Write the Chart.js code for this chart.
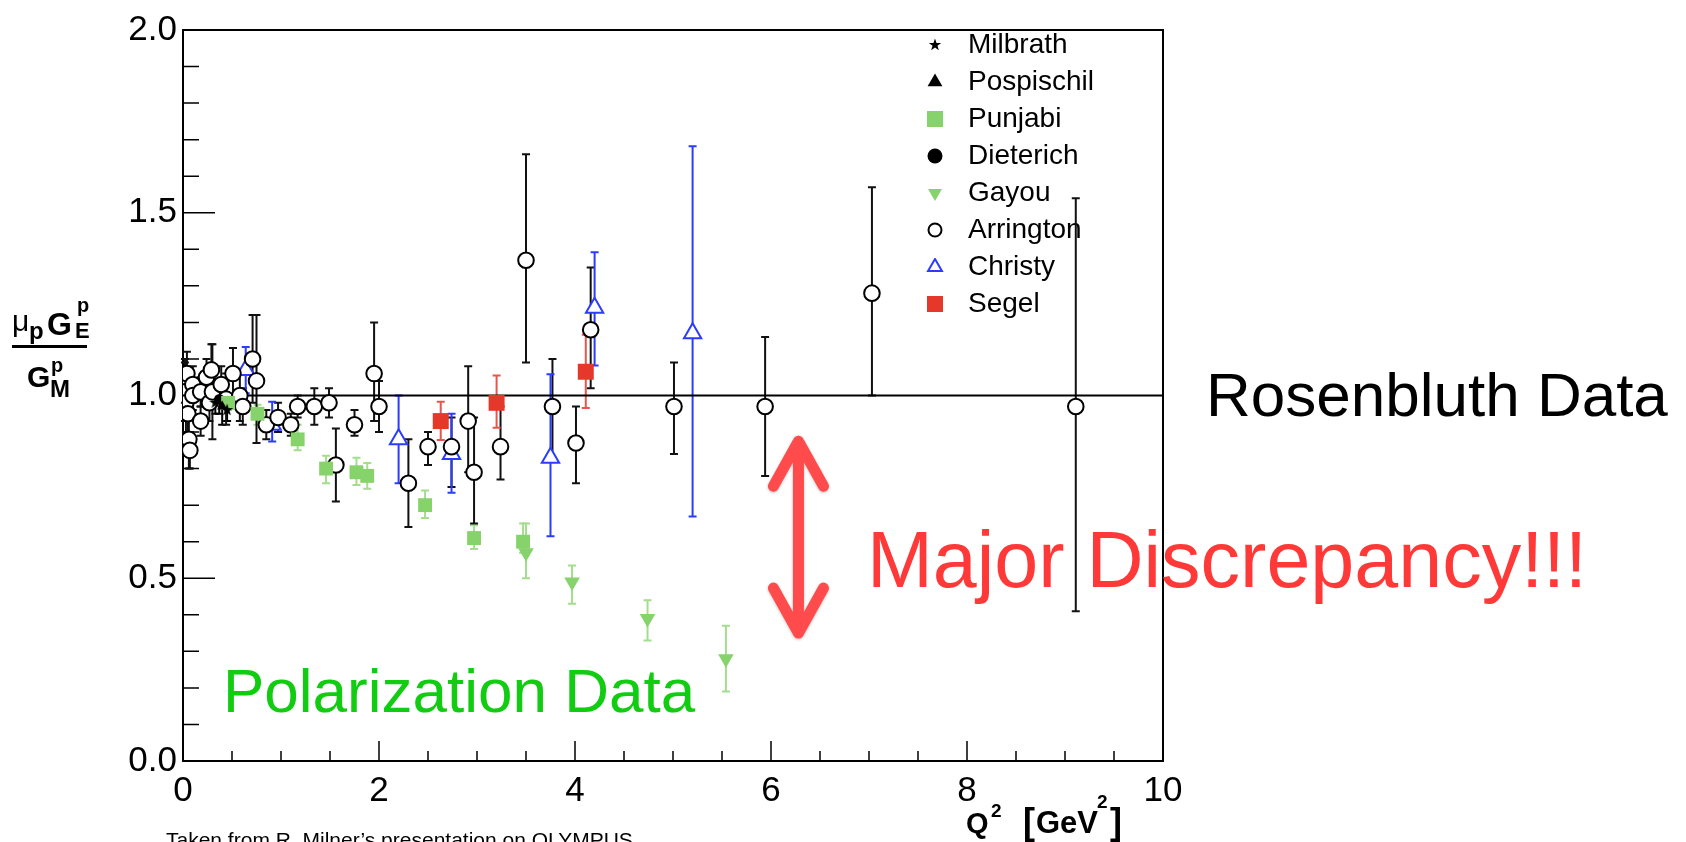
<!DOCTYPE html>
<html>
<head>
<meta charset="utf-8">
<title>Proton form factor ratio</title>
<script src="https://cdn.jsdelivr.net/npm/chart.js@4.4.1/dist/chart.umd.min.js"></script>
<style>
    html, body { margin: 0; padding: 0; background: #fff; }
    canvas { display: block; }
</style>
</head>
<body>
<canvas id="ratioChart" width="1686" height="842"></canvas>
<script>
// ==========================================
// DATA  (rows: Q2, ratio, error low, error high)
// ==========================================
const milbrath = [[0.33, 0.98, 0.95, 1.01], [0.45, 0.96, 0.93, 0.99]];
const pospischil = [[0.40, 0.97, 0.92, 1.02]];
const punjabi = [
    [0.46, 0.98, 0.96, 1.00], [0.76, 0.95, 0.92, 0.975], [1.17, 0.88, 0.85, 0.92],
    [1.46, 0.80, 0.76, 0.835], [1.77, 0.79, 0.755, 0.83], [1.88, 0.78, 0.745, 0.815],
    [2.47, 0.70, 0.665, 0.74], [2.97, 0.61, 0.58, 0.645], [3.47, 0.60, 0.57, 0.65]
];
const dieterich = [[0.37, 0.99, 0.95, 1.03]];
const gayou = [[3.50, 0.57, 0.50, 0.65], [3.97, 0.49, 0.43, 0.535], [4.74, 0.39, 0.33, 0.44], [5.54, 0.28, 0.19, 0.37]];
const arrington = [
    [0.02, 1.04, 0.98, 1.10], [0.02, 1.01, 0.93, 1.09], [0.03, 0.98, 0.90, 1.06],
    [0.04, 1.06, 1.00, 1.12], [0.05, 0.95, 0.88, 1.02],
    [0.06, 0.88, 0.80, 0.96], [0.07, 0.85, 0.80, 0.90], [0.10, 1.03, 0.99, 1.08],
    [0.10, 1.00, 0.96, 1.04], [0.18, 0.93, 0.89, 0.97], [0.18, 1.01, 0.97, 1.05],
    [0.24, 1.05, 1.00, 1.10], [0.27, 0.98, 0.93, 1.03], [0.29, 1.07, 1.00, 1.14],
    [0.30, 1.01, 0.88, 1.14], [0.39, 1.03, 0.98, 1.08], [0.44, 0.99, 0.92, 1.06],
    [0.51, 1.06, 1.00, 1.13], [0.58, 1.00, 0.93, 1.06], [0.61, 0.97, 0.92, 1.02],
    [0.71, 1.10, 0.98, 1.22], [0.75, 1.04, 0.87, 1.22], [0.85, 0.92, 0.88, 0.96],
    [0.97, 0.94, 0.90, 0.98], [1.10, 0.92, 0.89, 0.95], [1.17, 0.97, 0.94, 1.00],
    [1.34, 0.97, 0.92, 1.02], [1.49, 0.98, 0.94, 1.02], [1.56, 0.81, 0.71, 0.91],
    [1.75, 0.92, 0.89, 0.96], [1.95, 1.06, 0.93, 1.20], [2.00, 0.97, 0.90, 1.04],
    [2.30, 0.76, 0.64, 0.88], [2.50, 0.86, 0.81, 0.90], [2.74, 0.86, 0.75, 0.94],
    [2.91, 0.93, 0.79, 1.08], [2.97, 0.79, 0.65, 0.94], [3.24, 0.86, 0.77, 0.97],
    [3.50, 1.37, 1.09, 1.66], [3.77, 0.97, 0.83, 1.10], [4.01, 0.87, 0.76, 0.97],
    [4.16, 1.18, 1.02, 1.35], [5.01, 0.97, 0.84, 1.09], [5.94, 0.97, 0.78, 1.16],
    [7.03, 1.28, 1.00, 1.57], [9.11, 0.97, 0.41, 1.54]
];
const christy = [
    [0.64, 1.07, 1.006, 1.133], [0.91, 0.92, 0.874, 0.983], [2.20, 0.88, 0.76, 1.00],
    [2.74, 0.84, 0.734, 0.95], [3.75, 0.83, 0.615, 1.058], [4.20, 1.24, 1.082, 1.392],
    [5.20, 1.17, 0.669, 1.682]
];
const segel = [[2.63, 0.93, 0.878, 0.983], [3.20, 0.98, 0.912, 1.055], [4.11, 1.065, 0.966, 1.166]];

// reference line (ratio = 1)
const unityQ2 = [0, 10];
const unityRatio = [1, 1];

const xTicks = [0, 2, 4, 6, 8, 10];
const yTicks = [0, 0.5, 1.0, 1.5, 2.0];

const FONT = '"Liberation Sans", Arial, Helvetica, sans-serif';
const GREEN = '#86d26b';
const GREEN_ERR = '#a3dd8d';
const RED = '#e5372a';
const BLUE = '#2b3cff';

// ==========================================
// MARKER IMAGES (legend + star)
// ==========================================
function makeMarker(size, draw) {
    const c = document.createElement('canvas');
    c.width = size;
    c.height = size;
    const g = c.getContext('2d');
    draw(g, size / 2);
    return c;
}

function starPath(g, cx, cy, outer, inner) {
    g.beginPath();
    for (let i = 0; i < 10; i++) {
        const r = i % 2 === 0 ? outer : inner;
        const a = -Math.PI / 2 + i * Math.PI / 5;
        g.lineTo(cx + r * Math.cos(a), cy + r * Math.sin(a));
    }
    g.closePath();
}

function triPath(g, c, r, down) {
    const s = down ? -1 : 1;
    g.beginPath();
    g.moveTo(c, c - s * r);
    g.lineTo(c + r * 0.87, c + s * r * 0.5);
    g.lineTo(c - r * 0.87, c + s * r * 0.5);
    g.closePath();
}

const starImg = makeMarker(14, (g, c) => { starPath(g, c, c, 6.5, 2.6); g.fillStyle = '#000'; g.fill(); });
const legendMarkers = {
    Milbrath: starImg,
    Pospischil: makeMarker(18, (g, c) => { triPath(g, c, 8.5, false); g.fillStyle = '#000'; g.fill(); }),
    Punjabi: makeMarker(16, (g) => { g.fillStyle = GREEN; g.fillRect(0, 0, 16, 16); }),
    Dieterich: makeMarker(16, (g, c) => { g.beginPath(); g.arc(c, c, 7.5, 0, Math.PI * 2); g.fillStyle = '#000'; g.fill(); }),
    Gayou: makeMarker(16, (g, c) => { triPath(g, c, 8, true); g.fillStyle = GREEN; g.fill(); }),
    Arrington: makeMarker(16, (g, c) => { g.beginPath(); g.arc(c, c, 6.5, 0, Math.PI * 2); g.lineWidth = 2; g.strokeStyle = '#000'; g.stroke(); }),
    Christy: makeMarker(18, (g, c) => { triPath(g, c, 8, false); g.lineWidth = 2; g.strokeStyle = BLUE; g.stroke(); }),
    Segel: makeMarker(16, (g) => { g.fillStyle = RED; g.fillRect(0, 0, 16, 16); })
};

function toPoints(rows) {
    return rows.map(r => ({ x: r[0], y: r[1], low: r[2], high: r[3] }));
}

// ==========================================
// PLUGINS
// ==========================================
const errorBars = {
    id: 'errorBars',
    beforeDatasetsDraw(chart) {
        const { ctx, scales: { x, y } } = chart;
        chart.data.datasets.forEach((ds, i) => {
            if (!ds.errorColor || !chart.isDatasetVisible(i)) return;
            ctx.save();
            ctx.strokeStyle = ds.errorColor;
            ctx.lineWidth = 2;
            ds.data.forEach(p => {
                const px = x.getPixelForValue(p.x);
                const top = y.getPixelForValue(p.high);
                const bottom = y.getPixelForValue(p.low);
                ctx.beginPath();
                ctx.moveTo(px, top);
                ctx.lineTo(px, bottom);
                ctx.moveTo(px - 4, top);
                ctx.lineTo(px + 4, top);
                ctx.moveTo(px - 4, bottom);
                ctx.lineTo(px + 4, bottom);
                ctx.stroke();
            });
            ctx.restore();
        });
    }
};

// frame + inward ticks, ROOT style
const frameTicks = {
    id: 'frameTicks',
    beforeDatasetsDraw(chart) {
        const { ctx, chartArea: a, scales: { x, y } } = chart;
        ctx.save();
        ctx.strokeStyle = '#000';
        ctx.lineWidth = 2;
        ctx.strokeRect(a.left, a.top, a.right - a.left, a.bottom - a.top);
        ctx.lineWidth = 1.5;
        ctx.beginPath();
        for (let k = 1; k < 20; k++) {
            const py = y.getPixelForValue(k / 10);
            const len = k % 5 === 0 ? 32 : 16;
            ctx.moveTo(a.left, py);
            ctx.lineTo(a.left + len, py);
        }
        for (let k = 1; k < 20; k++) {
            const px = x.getPixelForValue(k * 0.5);
            const len = k % 4 === 0 ? 20 : 10;
            ctx.moveTo(px, a.bottom);
            ctx.lineTo(px, a.bottom - len);
        }
        ctx.stroke();
        ctx.restore();
    }
};

// move the legend into the upper right corner of the frame
const legendCorner = {
    id: 'legendCorner',
    beforeDraw(chart) {
        chart.legend.left = 907;
        chart.legend.top = 22;
    }
};

function drawArrow(ctx, x, yTop, yBottom) {
    ctx.save();
    ctx.strokeStyle = '#ff4b4b';
    ctx.lineWidth = 11;
    ctx.lineCap = 'round';
    ctx.lineJoin = 'round';
    ctx.shadowColor = 'rgba(0,0,0,0.25)';
    ctx.shadowBlur = 3;
    ctx.shadowOffsetY = 1;
    ctx.beginPath();
    ctx.moveTo(x, yTop);
    ctx.lineTo(x, yBottom);
    ctx.moveTo(x - 25, yTop + 45);
    ctx.lineTo(x, yTop);
    ctx.lineTo(x + 25, yTop + 45);
    ctx.moveTo(x - 25, yBottom - 45);
    ctx.lineTo(x, yBottom);
    ctx.lineTo(x + 25, yBottom - 45);
    ctx.stroke();
    ctx.restore();
}

const annotations = {
    id: 'annotations',
    afterDraw(chart) {
        const { ctx, scales: { x, y } } = chart;
        ctx.save();
        ctx.textAlign = 'left';
        ctx.textBaseline = 'alphabetic';
        ctx.fillStyle = '#000';

        // y title: mu_p G_E^p / G_M^p
        ctx.font = `30px ${FONT}`;
        ctx.fillText('\u03bc', 12, 331);
        ctx.font = `bold 24px ${FONT}`;
        ctx.fillText('p', 29, 339);
        ctx.font = `bold 32px ${FONT}`;
        ctx.fillText('G', 47, 335);
        ctx.font = `bold 20px ${FONT}`;
        ctx.fillText('p', 77, 312);
        ctx.font = `bold 22px ${FONT}`;
        ctx.fillText('E', 75, 338);
        ctx.fillRect(12, 345, 75, 3);
        ctx.font = `bold 30px ${FONT}`;
        ctx.fillText('G', 27, 387);
        ctx.font = `bold 20px ${FONT}`;
        ctx.fillText('p', 51, 372);
        ctx.font = `bold 24px ${FONT}`;
        ctx.fillText('M', 50, 397);

        // x title: Q^2 [GeV^2]
        ctx.font = `bold 29px ${FONT}`;
        ctx.fillText('Q', 966, 833);
        ctx.font = `bold 19px ${FONT}`;
        ctx.fillText('2', 991, 817);
        ctx.font = `bold 36px ${FONT}`;
        ctx.fillText('[', 1023, 834);
        ctx.font = `bold 31px ${FONT}`;
        ctx.fillText('GeV', 1036, 833);
        ctx.font = `bold 19px ${FONT}`;
        ctx.fillText('2', 1097, 808);
        ctx.font = `bold 36px ${FONT}`;
        ctx.fillText(']', 1110, 834);

        // slide annotations
        ctx.font = `62px ${FONT}`;
        ctx.fillText('Rosenbluth Data', 1206, 416);
        ctx.fillStyle = '#ff3838';
        ctx.font = `79px ${FONT}`;
        ctx.fillText('Major Discrepancy!!!', 867, 587);
        ctx.fillStyle = '#11cc11';
        ctx.font = `62px ${FONT}`;
        ctx.fillText('Polarization Data', 223, 712);
        ctx.fillStyle = '#000';
        ctx.font = `21px ${FONT}`;
        ctx.fillText('Taken from R. Milner\u2019s presentation on OLYMPUS', 166, 847);

        drawArrow(ctx, x.getPixelForValue(6.28), y.getPixelForValue(0.875), y.getPixelForValue(0.35));
        ctx.restore();
    }
};

// ==========================================
// CHART
// ==========================================
Chart.defaults.font.family = FONT;
Chart.defaults.color = '#000';

function series(label, rows, opts) {
    return Object.assign({
        label: label,
        data: toPoints(rows),
        borderWidth: 0,
        pointHoverRadius: 0
    }, opts);
}

const datasets = [
    series('Milbrath', milbrath, { pointStyle: starImg, errorColor: '#000' }),
    series('Pospischil', pospischil, { pointStyle: 'triangle', pointRadius: 6, backgroundColor: '#000', borderColor: '#000', errorColor: '#000' }),
    series('Punjabi', punjabi, { pointStyle: 'rect', pointRadius: 9.8, backgroundColor: GREEN, borderColor: GREEN, errorColor: GREEN_ERR }),
    series('Dieterich', dieterich, { pointStyle: 'circle', pointRadius: 5, backgroundColor: '#000', borderColor: '#000', errorColor: '#000' }),
    series('Gayou', gayou, { pointStyle: 'triangle', rotation: 180, pointRadius: 9, backgroundColor: GREEN, borderColor: GREEN, errorColor: GREEN_ERR }),
    series('Arrington', arrington, { pointStyle: 'circle', pointRadius: 7.8, backgroundColor: '#fff', borderColor: '#000', pointBorderWidth: 2, errorColor: '#111' }),
    series('Christy', christy, { pointStyle: 'triangle', pointRadius: 10, backgroundColor: '#fff', borderColor: BLUE, pointBorderWidth: 2, errorColor: BLUE }),
    series('Segel', segel, { pointStyle: 'rect', pointRadius: 11.3, backgroundColor: RED, borderColor: RED, errorColor: '#e8564b' }),
    {
        label: 'unity',
        data: unityQ2.map((q, i) => ({ x: q, y: unityRatio[i] })),
        showLine: true,
        borderColor: '#000',
        borderWidth: 2,
        pointRadius: 0,
        order: 10
    }
];

new Chart(document.getElementById('ratioChart'), {
    type: 'scatter',
    data: { datasets: datasets },
    options: {
        responsive: false,
        devicePixelRatio: 1,
        animation: false,
        events: [],
        layout: { padding: { left: 0, top: 30, right: 523, bottom: 0 } },
        scales: {
            x: {
                min: 0,
                max: 10,
                afterFit: s => { s.height = 81; },
                afterBuildTicks: s => { s.ticks = xTicks.map(v => ({ value: v })); },
                grid: { display: false, drawTicks: false, tickLength: 0 },
                border: { display: false },
                ticks: { font: { size: 35 }, color: '#000', padding: 9, maxRotation: 0, callback: v => String(v) }
            },
            y: {
                min: 0,
                max: 2,
                afterFit: s => { s.width = 183; },
                afterBuildTicks: s => { s.ticks = yTicks.map(v => ({ value: v })); },
                grid: { display: false, drawTicks: false, tickLength: 0 },
                border: { display: false },
                ticks: { font: { size: 35 }, color: '#000', padding: 6, callback: v => v.toFixed(1) }
            }
        },
        plugins: {
            tooltip: { enabled: false },
            legend: {
                position: 'chartArea',
                align: 'start',
                labels: {
                    usePointStyle: true,
                    pointStyleWidth: 38,
                    padding: 9,
                    color: '#000',
                    font: { size: 28 },
                    generateLabels: chart => chart.data.datasets
                        .map((ds, i) => ({
                            text: ds.label,
                            pointStyle: legendMarkers[ds.label],
                            fillStyle: '#000',
                            strokeStyle: '#000',
                            lineWidth: 0,
                            hidden: false,
                            datasetIndex: i,
                            fontColor: '#000'
                        }))
                        .filter(item => item.text !== 'unity')
                }
            }
        }
    },
    plugins: [legendCorner, frameTicks, errorBars, annotations]
});
</script>
</body>
</html>
